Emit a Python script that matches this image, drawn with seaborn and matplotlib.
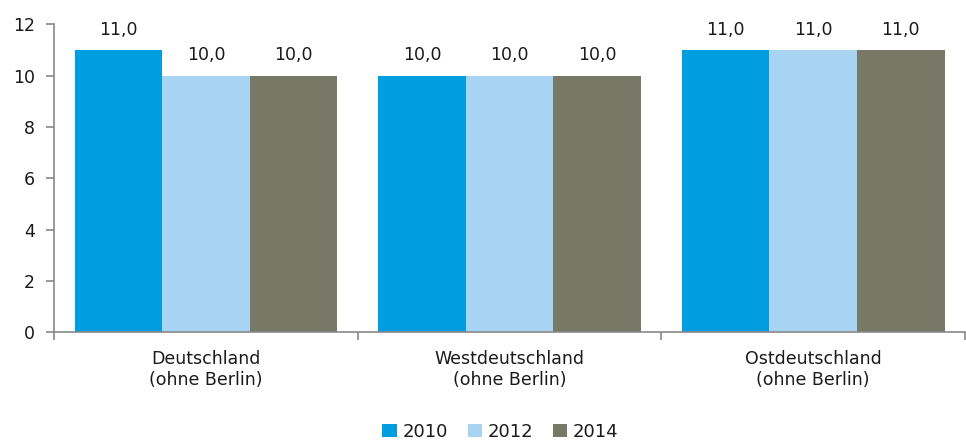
import matplotlib
matplotlib.use("Agg")
import matplotlib.pyplot as plt
import seaborn as sns
import pandas as pd

categories = ["Deutschland\n(ohne Berlin)", "Westdeutschland\n(ohne Berlin)", "Ostdeutschland\n(ohne Berlin)"]
years = ["2010", "2012", "2014"]
values_2010 = [11.0, 10.0, 11.0]
values_2012 = [10.0, 10.0, 11.0]
values_2014 = [10.0, 10.0, 11.0]
colors = ["#009EE0", "#A8D4F4", "#787866"]

rows = []
for y, vals in zip(years, [values_2010, values_2012, values_2014]):
    for c, v in zip(categories, vals):
        rows.append({"cat": c, "year": y, "val": v})
df = pd.DataFrame(rows)

sns.set_theme(style="white")
plt.rcParams['font.family'] = ['DejaVu Sans']

FS = 12.5
fig = plt.figure(figsize=(9.66, 4.4), dpi=100)
ax = fig.add_axes([0.056, 0.245, 0.943, 0.7])
sns.barplot(data=df, x="cat", y="val", hue="year", order=categories, hue_order=years,
            palette=colors, width=0.865, saturation=1, ax=ax, legend=True)

for cont in ax.containers:
    ax.bar_label(cont, labels=[f"{b.get_height():.1f}".replace(".", ",") for b in cont],
                 padding=8, fontsize=FS, color="#1a1a1a")
for p in ax.patches:
    p.set_edgecolor("none")

ax.set_ylim(0, 12)
ax.set_yticks([0, 2, 4, 6, 8, 10, 12])
ax.set_xlim(-0.5, 2.5)
ax.set_xlabel("")
ax.set_ylabel("")
for s in ["top", "right"]:
    ax.spines[s].set_visible(False)
for s in ["left", "bottom"]:
    ax.spines[s].set_color("#898989")
    ax.spines[s].set_linewidth(1.2)
ax.tick_params(axis="y", which="major", length=6, width=1.2, color="#898989",
               labelsize=FS, labelcolor="#1a1a1a", direction="out", left=True, pad=8)
ax.tick_params(axis="x", which="major", length=0, labelsize=FS, labelcolor="#1a1a1a", pad=13)
ax.set_xticks([-0.5, 0.5, 1.5, 2.5], minor=True)
ax.tick_params(axis="x", which="minor", length=6, width=1.2, color="#898989", direction="out", bottom=True)

leg = ax.legend(loc="lower center", bbox_to_anchor=(0.49, -0.405), ncol=3, frameon=False,
                fontsize=13, handlelength=0.8, handleheight=0.8, handletextpad=0.3,
                columnspacing=1.1)
for t in leg.get_texts():
    t.set_color("#1a1a1a")

fig.savefig("out.png", dpi=100, facecolor="white")
